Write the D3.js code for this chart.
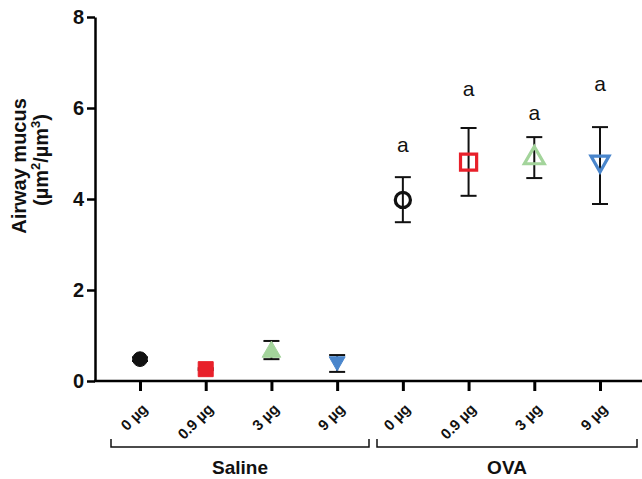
<!DOCTYPE html>
<html>
<head>
<meta charset="utf-8">
<script src="https://cdn.jsdelivr.net/npm/d3@7"></script>
<style>
  body { margin: 0; background: #fff; }
  text { font-family: "Liberation Sans", Arial, sans-serif; }
</style>
</head>
<body>
<svg id="chart" width="642" height="479"></svg>
<script>
var groups = ['Saline', 'Saline', 'Saline', 'Saline', 'OVA', 'OVA', 'OVA', 'OVA'];
var doses = ['0 µg', '0.9 µg', '3 µg', '9 µg', '0 µg', '0.9 µg', '3 µg', '9 µg'];
var means = [0.48, 0.26, 0.64, 0.40, 3.98, 4.81, 4.90, 4.79];
var upper = [0.52, 0.28, 0.88, 0.57, 4.48, 5.56, 5.36, 5.58];
var lower = [0.44, 0.24, 0.48, 0.20, 3.49, 4.07, 4.46, 3.89];
var letters = ['', '', '', '', 'a', 'a', 'a', 'a'];
var letterY = [0, 0, 0, 0, 5.19, 6.42, 5.89, 6.53];
var yTicks = [0, 2, 4, 6, 8];

var SHAPES = ['circle', 'square', 'triangle', 'down', 'circle', 'square', 'triangle', 'down'],
    COLORS = ['#111', '#e8202a', '#a3d49b', '#4a86cc', '#111', '#e8202a', '#a3d49b', '#4a86cc'];

var svg = d3.select('#chart');
var X0 = 95, Y0 = 381;

var y = d3.scaleLinear().domain([0, 8]).range([Y0, 17]);
var x = d3.scalePoint().domain(d3.range(8)).range([140, 600]);

// y axis
var yAxis = svg.append('g')
    .attr('transform', 'translate(' + X0 + ',0)')
    .call(d3.axisLeft(y).tickValues(yTicks).tickSize(8).tickPadding(3).tickSizeOuter(0));
yAxis.select('.domain').attr('stroke-width', 2.5);
yAxis.selectAll('.tick line').attr('stroke-width', 2.5);
yAxis.selectAll('.tick text')
    .style('font-size', '20px').attr('font-weight', 'bold').attr('fill', '#111');

// x axis
var xAxis = svg.append('g')
    .attr('transform', 'translate(0,' + Y0 + ')')
    .call(d3.axisBottom(x).tickSize(10).tickFormat(function (i) { return doses[i]; }));
xAxis.select('.domain').remove();
xAxis.selectAll('.tick line').attr('stroke-width', 3);
xAxis.selectAll('.tick text')
    .style('font-size', '15px').attr('font-weight', 'bold').attr('fill', '#111')
    .attr('text-anchor', 'end')
    .attr('y', 0).attr('dy', 0)
    .attr('transform', 'translate(8,29) rotate(-45)');
svg.append('line')
    .attr('x1', X0 - 1).attr('x2', 642).attr('y1', Y0).attr('y2', Y0)
    .attr('stroke', '#000').attr('stroke-width', 2.5);

// y title
var title = svg.append('text')
    .attr('transform', 'translate(26,166) rotate(-90)')
    .attr('text-anchor', 'middle')
    .style('font-size', '20px').attr('font-weight', 'bold').attr('fill', '#111');
title.append('tspan').attr('x', 0).attr('dy', 0).text('Airway mucus');
var t2 = title.append('tspan').attr('x', 6).attr('dy', 22);
t2.append('tspan').text('(µm');
t2.append('tspan').style('font-size', '13px').attr('dy', -8).text('2');
t2.append('tspan').attr('dy', 8).text('/µm');
t2.append('tspan').style('font-size', '13px').attr('dy', -8).text('3');
t2.append('tspan').attr('dy', 8).text(')');

// error bars
var idx = d3.range(8);
var err = svg.append('g').attr('stroke', '#111').attr('stroke-width', 2);
err.selectAll('.stem').data(idx).enter().append('line')
    .attr('x1', function (i) { return x(i); }).attr('x2', function (i) { return x(i); })
    .attr('y1', function (i) { return y(upper[i]); }).attr('y2', function (i) { return y(lower[i]); });
err.selectAll('.capT').data(idx).enter().append('line')
    .attr('x1', function (i) { return x(i) - 8; }).attr('x2', function (i) { return x(i) + 8; })
    .attr('y1', function (i) { return y(upper[i]); }).attr('y2', function (i) { return y(upper[i]); });
err.selectAll('.capB').data(idx).enter().append('line')
    .attr('x1', function (i) { return x(i) - 8; }).attr('x2', function (i) { return x(i) + 8; })
    .attr('y1', function (i) { return y(lower[i]); }).attr('y2', function (i) { return y(lower[i]); });

// markers
function symPath(i) {
    var open = i >= 4;
    var s = SHAPES[i];
    if (s === 'circle') return d3.symbol(d3.symbolCircle, open ? 180 : 170)();
    if (s === 'square') return d3.symbol(d3.symbolSquare, open ? 260 : 225)();
    if (s === 'triangle') return d3.symbol(d3.symbolTriangle, open ? 170 : 150)();
    return open ? 'M-9,-7L9,-7L0,9Z' : 'M-8,-6L8,-6L0,8Z';
}
svg.selectAll('.pt').data(idx).enter().append('path')
    .attr('d', symPath)
    .attr('transform', function (i) { return 'translate(' + x(i) + ',' + y(means[i]) + ')'; })
    .attr('fill', function (i) { return i >= 4 ? 'none' : COLORS[i]; })
    .attr('stroke', function (i) { return COLORS[i]; })
    .attr('stroke-width', function (i) { return i >= 4 ? 3.2 : 1; })
    .attr('stroke-linejoin', 'miter');

// significance letters
svg.selectAll('.let').data(idx.filter(function (i) { return letters[i]; })).enter().append('text')
    .attr('x', function (i) { return x(i); })
    .attr('y', function (i) { return y(letterY[i]); })
    .attr('dy', '0.35em')
    .attr('text-anchor', 'middle')
    .style('font-size', '21px').attr('fill', '#111')
    .text(function (i) { return letters[i]; });

// group brackets
var groupNames = ['Saline', 'OVA'];
var brackets = [[111, 369], [377, 637]];
groupNames.forEach(function (g, k) {
    var b = brackets[k];
    svg.append('path')
        .attr('d', 'M' + b[0] + ',439V447H' + b[1] + 'V439')
        .attr('fill', 'none').attr('stroke', '#111').attr('stroke-width', 1.5);
    svg.append('text')
        .attr('x', (b[0] + b[1]) / 2).attr('y', 474)
        .attr('text-anchor', 'middle')
        .style('font-size', '19px').attr('font-weight', 'bold').attr('fill', '#111')
        .text(g);
});
</script>
</body>
</html>
